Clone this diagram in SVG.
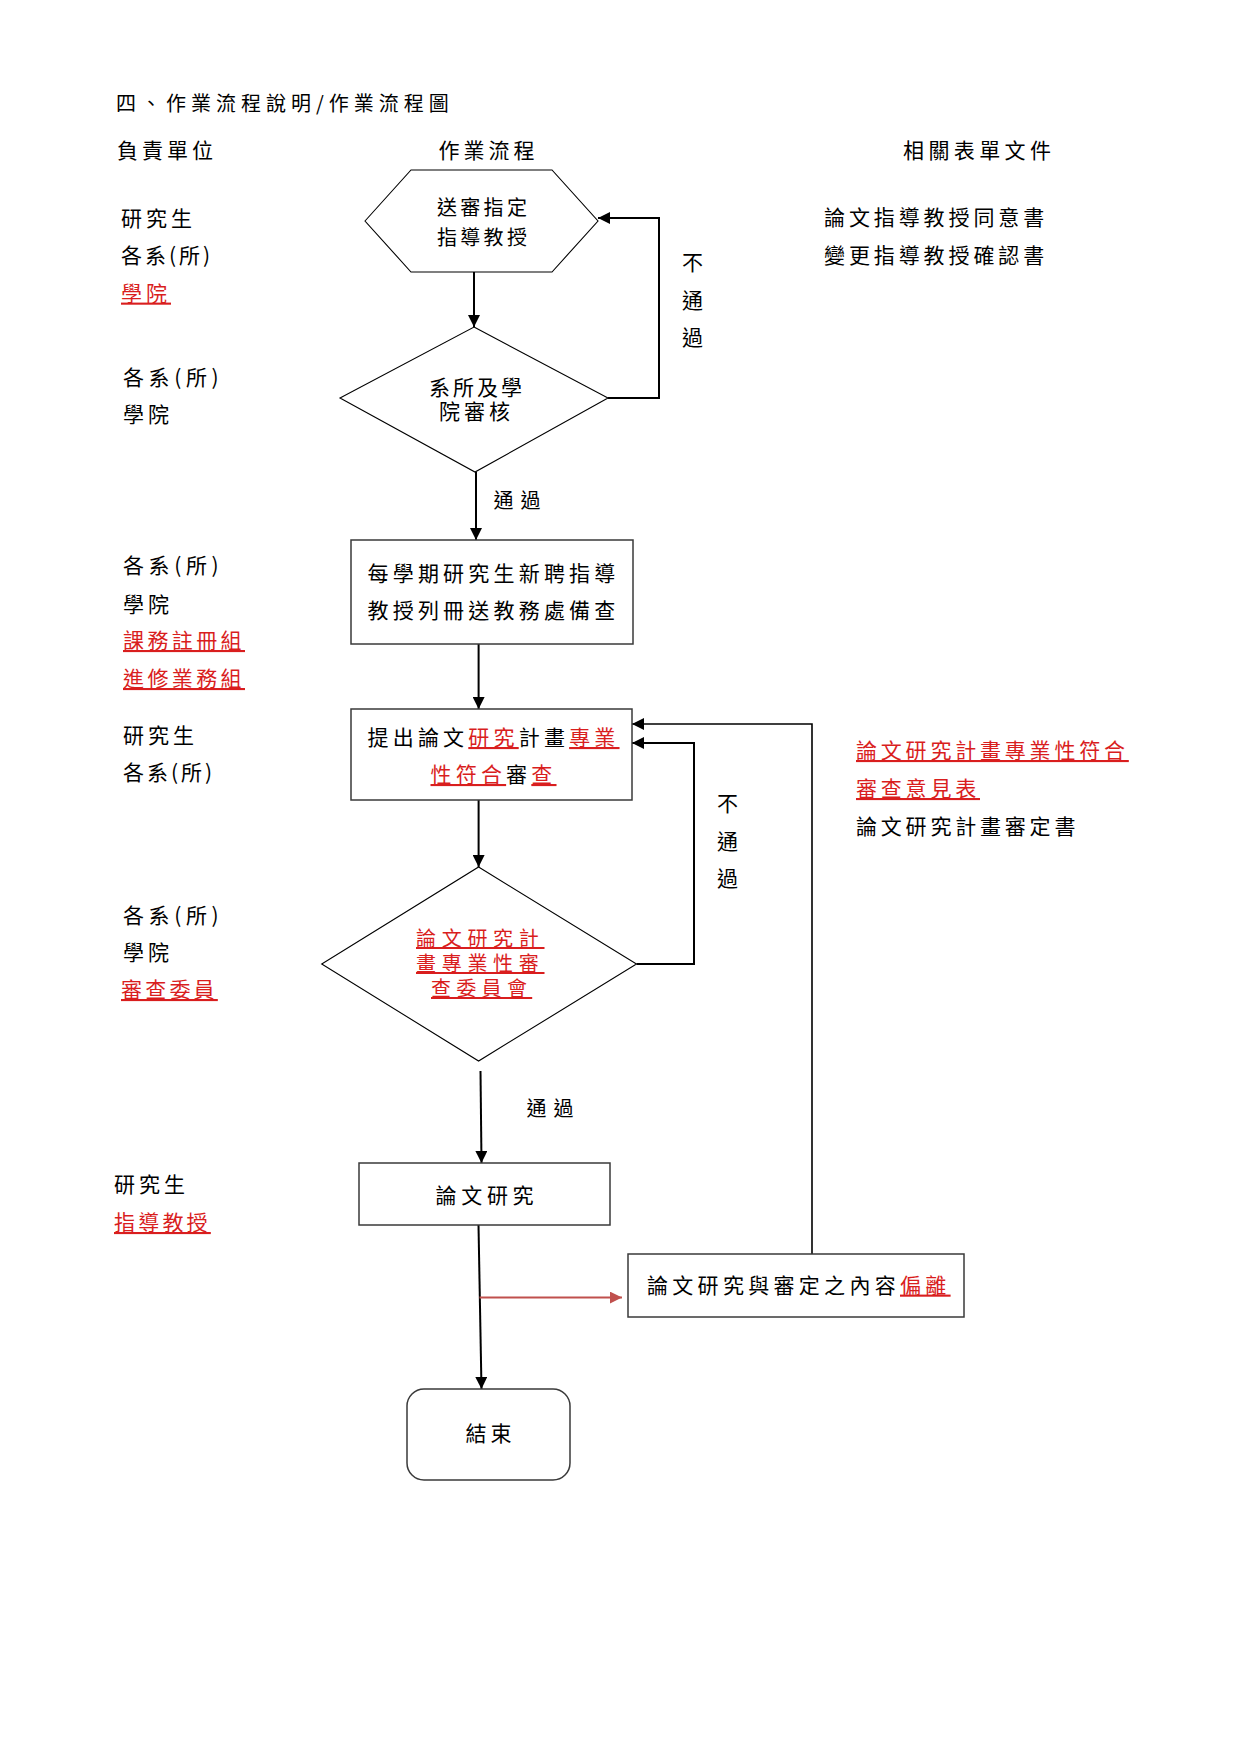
<svg xmlns="http://www.w3.org/2000/svg" width="1241" height="1755" viewBox="0 0 1241 1755">
<style>
.t{font-family:"Noto Sans CJK TC","Noto Sans CJK SC",sans-serif;font-size:21px;fill:#000;letter-spacing:4px}
.r{fill:#d91e1e;text-decoration:underline}
.s{fill:#fff;stroke:#000;stroke-width:1.1}
.b{fill:#fff;stroke:#3a3a3a;stroke-width:1.5}
.c{fill:none;stroke:#000;stroke-width:2}
</style>
<defs>
<marker id="a" viewBox="0 0 12 12" refX="12" refY="6" markerWidth="12" markerHeight="12" markerUnits="userSpaceOnUse" orient="auto"><path d="M0,0 L12,6 L0,12 z" fill="#000"/></marker>
<marker id="ar" viewBox="0 0 12 12" refX="12" refY="6" markerWidth="12" markerHeight="12" markerUnits="userSpaceOnUse" orient="auto"><path d="M0,0 L12,6 L0,12 z" fill="#c0504d"/></marker>
</defs>
<rect width="1241" height="1755" fill="#fff"/>

<g id="headers">
<text class="t" x="116" y="111" style="font-size:20px;letter-spacing:5px">四、作業流程說明/作業流程圖</text>
<text class="t" x="117" y="158">負責單位</text>
<text class="t" x="438.5" y="158">作業流程</text>
<text class="t" x="903" y="158" style="letter-spacing:4.4px">相關表單文件</text>
</g>

<g id="units">
<text class="t" x="121" y="225.7">研究生</text>
<text class="t" x="121" y="262.6" style="letter-spacing:3px">各系(所)</text>
<text class="t r" x="121" y="300.6">學院</text>
<text class="t" x="123" y="384.5" style="letter-spacing:4.6px">各系(所)</text>
<text class="t" x="123" y="421.5">學院</text>
<text class="t" x="123" y="573" style="letter-spacing:4.6px">各系(所)</text>
<text class="t" x="123" y="612">學院</text>
<text class="t r" x="123" y="648" style="letter-spacing:3.4px">課務註冊組</text>
<text class="t r" x="123" y="686" style="letter-spacing:3.4px">進修業務組</text>
<text class="t" x="123" y="743">研究生</text>
<text class="t" x="123" y="780" style="letter-spacing:3px">各系(所)</text>
<text class="t" x="123" y="923" style="letter-spacing:4.6px">各系(所)</text>
<text class="t" x="123" y="960">學院</text>
<text class="t r" x="121" y="997" style="letter-spacing:3.2px">審查委員</text>
<text class="t" x="114" y="1192">研究生</text>
<text class="t r" x="114" y="1230" style="letter-spacing:3.2px">指導教授</text>
</g>

<g id="docs">
<text class="t" x="824" y="224.7" style="letter-spacing:3.9px">論文指導教授同意書</text>
<text class="t" x="824" y="262.7" style="letter-spacing:3.9px">變更指導教授確認書</text>
<text class="t r" x="856" y="758" style="letter-spacing:3.8px">論文研究計畫專業性符合</text>
<text class="t r" x="856" y="796" style="letter-spacing:3.8px">審查意見表</text>
<text class="t" x="856" y="834" style="letter-spacing:3.8px">論文研究計畫審定書</text>
</g>

<g id="connectors">
<path class="c" d="M474,272 V327" marker-end="url(#a)"/>
<path class="c" d="M608,398 H659 V218 H598" marker-end="url(#a)"/>
<path class="c" d="M476,472 V540" marker-end="url(#a)"/>
<path class="c" d="M478.6,644 V709" marker-end="url(#a)"/>
<path class="c" d="M478.6,800 V867" marker-end="url(#a)"/>
<path class="c" d="M636.5,964 H694 V743 H632" marker-end="url(#a)"/>
<path class="c" d="M812,1254 V724 H632" style="stroke-width:1.6" marker-end="url(#a)"/>
<path class="c" d="M480.5,1071 L481.5,1163" marker-end="url(#a)"/>
<path class="c" d="M478.5,1225 L481.5,1389" marker-end="url(#a)"/>
<path class="c" d="M479.5,1297.6 H622" style="stroke:#c0504d" marker-end="url(#ar)"/>
<text class="t" x="493.5" y="507.5" style="font-size:20px;letter-spacing:7px">通過</text>
<text class="t" x="526.5" y="1115.7" style="font-size:20px;letter-spacing:7px">通過</text>
<text class="t" x="682" y="269.5">不</text>
<text class="t" x="682" y="307.5">通</text>
<text class="t" x="682" y="344.5">過</text>
<text class="t" x="717" y="811">不</text>
<text class="t" x="717" y="849">通</text>
<text class="t" x="717" y="886">過</text>
</g>

<g id="n1">
<polygon class="s" points="365,221 411,170 552,170 598,221 552,272 411,272"/>
<text class="t" x="437" y="215" style="font-size:20px;letter-spacing:3.3px">送審指定</text>
<text class="t" x="437" y="245" style="font-size:20px;letter-spacing:3.3px">指導教授</text>
</g>

<g id="n2">
<polygon class="s" points="474,327 608,398 475,472 340,398"/>
<text class="t" x="429" y="395" style="letter-spacing:3px">系所及學</text>
<text class="t" x="439" y="419" style="letter-spacing:4px">院審核</text>
</g>

<g id="n3">
<rect class="b" x="351" y="540" width="282" height="104"/>
<text class="t" x="367.5" y="581" style="letter-spacing:4.2px">每學期研究生新聘指導</text>
<text class="t" x="367.5" y="618" style="letter-spacing:4.2px">教授列冊送教務處備查</text>
</g>

<g id="n4">
<rect class="b" x="351" y="709" width="281" height="91"/>
<text class="t" x="367.5" y="745" style="letter-spacing:4.2px">提出論文<tspan class="r">研究</tspan>計畫<tspan class="r">專業</tspan></text>
<text class="t" x="430.5" y="782" style="letter-spacing:4.2px"><tspan class="r">性符合</tspan>審<tspan class="r">查</tspan></text>
</g>

<g id="n5">
<polygon class="s" points="478.6,867 636.5,964 478.6,1061 321.7,964"/>
<text class="t r" x="416" y="946" style="font-size:20px;letter-spacing:5.7px">論文研究計</text>
<text class="t r" x="416" y="971" style="font-size:20px;letter-spacing:5.7px">畫專業性審</text>
<text class="t r" x="431" y="996" style="font-size:20px;letter-spacing:5.3px">查委員會</text>
</g>

<g id="n6">
<rect class="b" x="359" y="1163" width="251" height="62"/>
<text class="t" x="435.5" y="1202.7" style="letter-spacing:4.7px">論文研究</text>
</g>

<g id="n7">
<rect class="b" x="628" y="1254" width="336" height="63"/>
<text class="t" x="647" y="1292.6" style="letter-spacing:4.3px">論文研究與審定之內容<tspan class="r">偏離</tspan></text>
</g>

<g id="n8">
<rect class="b" x="407" y="1389" width="163" height="91" rx="17" ry="17"/>
<text class="t" x="465.5" y="1441">結束</text>
</g>
</svg>
